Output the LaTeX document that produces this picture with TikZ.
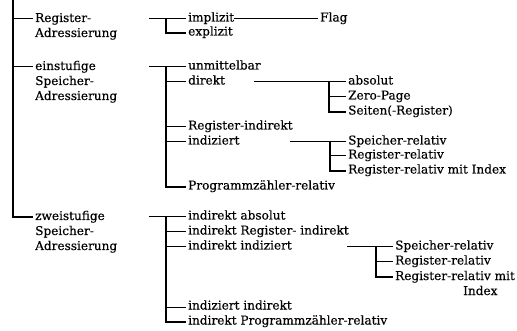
\documentclass[tikz,border=0pt]{standalone}
\usepackage{fontspec}
\setmainfont[FakeBold=0.4]{DejaVu Serif}

\begin{document}
\begin{tikzpicture}[x=1pt,y=-1pt,
  font=\fontsize{12.1}{15}\selectfont,
  lbl/.style={anchor=west,inner sep=0pt,text height=.75em,text depth=.25em},
  block/.style={anchor=base west,inner sep=0pt,align=left},
  link/.style={line width=1pt,shorten >=2pt},
  stem/.style={line width=1.5pt,shorten >=2pt}]

\fill[white] (0,0) rectangle (517,331);
\useasboundingbox (0,0) rectangle (517,331);

% Left column: the three kinds of addressing
% (block nodes sit on the baseline of their last line).
\node[block] (reg) at (35,37) {Register-\\Adressierung};
\node[block] (einst) at (35,100) {einstufige\\Speicher-\\Adressierung};
\node[block] (zweist) at (35,250) {zweistufige\\Speicher-\\Adressierung};
\foreach \n/\up in {reg/18,einst/33,zweist/33}
  \coordinate (\n-l) at ([yshift=\up pt]\n.base west);

\coordinate (top) at (13,0);
\draw[stem] (top) |- (zweist-l);
\draw[link] (top |- reg-l) -- (reg-l);
\draw[link] (top |- einst-l) -- (einst-l);

% Register addressing.
\node[lbl] (impl) at (188,19) {implizit};
\node[lbl] (expl) at (188,33) {explizit};
\node[lbl] (flag) at (320,19) {Flag};
\coordinate (rs) at (149,19);
\coordinate (rj) at (166,19);
\draw[link] (rs) -- (impl);
\draw[stem] (rj) |- (expl);
\draw[link] (impl) -- (flag);

% Single-level memory addressing.
\node[lbl] (unmit) at (188,67) {unmittelbar};
\node[lbl] (direkt) at (188,82) {direkt};
\node[lbl] (regind) at (188,127) {Register-indirekt};
\node[lbl] (indiz) at (188,142) {indiziert};
\node[lbl] (pzr) at (188,187) {Programmzähler-relativ};
\coordinate (es) at (149,67);
\coordinate (ej) at (166,67);
\draw[link] (es) -- (unmit);
\draw[stem] (ej) |- (pzr);
\foreach \n in {direkt,regind,indiz}
  \draw[link] (ej |- \n) -- (\n);

\node[lbl] (abs) at (348,82) {absolut};
\node[lbl] (zero) at (348,97) {Zero-Page};
\node[lbl] (seiten) at (348,112) {Seiten(-Register)};
\coordinate (ds) at (254,82);
\coordinate (dj) at (329,82);
\draw[link] (ds) -- (abs);
\draw[stem] (dj) |- (seiten);
\draw[link] (dj |- zero) -- (zero);

\node[lbl] (spr) at (348,142) {Speicher-relativ};
\node[lbl] (rr) at (348,156) {Register-relativ};
\node[lbl] (rrmi) at (348,171) {Register-relativ mit Index};
\coordinate (is) at (290,142);
\coordinate (ij) at (330,142);
\draw[link] (is) -- (spr);
\draw[stem] (ij) |- (rrmi);
\draw[link] (ij |- rr) -- (rr);

% Two-level memory addressing.
\node[lbl] (iabs) at (188,217) {indirekt absolut};
\node[lbl] (iri) at (188,232) {indirekt Register- indirekt};
\node[lbl] (iind) at (188,247) {indirekt indiziert};
\node[lbl] (iindir) at (188,307) {indiziert indirekt};
\node[lbl] (ipzr) at (188,322) {indirekt Programmzähler-relativ};
\coordinate (zs) at (149,217);
\coordinate (zj) at (166,217);
\draw[link] (zs) -- (iabs);
\draw[stem] (zj) |- (ipzr);
\foreach \n in {iri,iind,iindir}
  \draw[link] (zj |- \n) -- (\n);

\node[lbl] (spr2) at (395,247) {Speicher-relativ};
\node[lbl] (rr2) at (395,262) {Register-relativ};
\node[block] (rrmi2) at (395,295) {Register-relativ mit\\\hspace*{68pt}Index};
\coordinate (rrmi2-l) at ([yshift=18pt]rrmi2.base west);
\coordinate (js) at (347,247);
\coordinate (jj) at (376,247);
\draw[link] (js) -- (spr2);
\draw[stem] (jj) |- (rrmi2-l);
\draw[link] (jj |- rr2) -- (rr2);

\end{tikzpicture}
\end{document}
